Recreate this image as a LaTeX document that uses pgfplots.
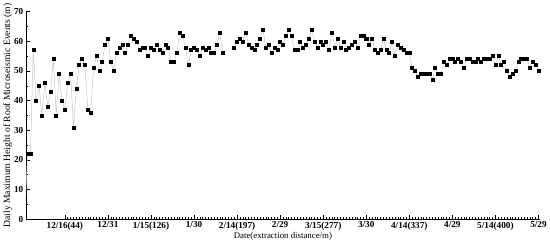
\documentclass[border=0pt]{standalone}
\usepackage{fontspec}
\setmainfont{Liberation Serif}
\usepackage{pgfplots}
\pgfplotsset{compat=1.18}
\usepackage{pgfplotstable}

% day 0 = 12/16, one row per day; nan marks the missing days
\pgfplotstableread{
day h
-13 22
-12 22
-11 57
-10 40
-9 45
-8 35
-7 46
-6 38
-5 43
-4 54
-3 35
-2 49
-1 40
0 37
1 46
2 49
3 31
4 44
5 52
6 54
7 52
8 37
9 36
10 51
11 55
12 50
13 53
14 59
15 61
16 53
17 50
18 56
19 58
20 59
21 56
22 59
23 62
24 61
25 60
26 57
27 58
28 58
29 55
30 58
31 57
32 59
33 57
34 56
35 59
36 58
37 53
38 53
39 56
40 63
41 62
42 58
43 52
44 57
45 58
46 57
47 55
48 58
49 57
50 58
51 56
52 56
53 59
54 63
55 56
57 nan
59 58
60 60
61 61
62 60
63 63
64 59
65 58
66 57
67 59
68 61
69 64
70 58
71 59
72 56
73 58
74 57
75 60
76 59
77 62
78 64
79 62
80 57
81 57
82 60
83 58
84 59
85 61
86 64
87 60
88 58
89 60
90 59
91 60
92 57
93 63
94 58
95 61
96 58
97 60
98 57
99 58
100 59
101 60
102 58
103 62
104 62
105 61
106 59
107 61
108 57
109 56
110 57
111 61
112 57
113 56
114 60
115 55
116 59
117 58
118 57
119 56
120 56
121 51
122 50
123 48
124 49
125 49
126 49
127 49
128 47
129 51
130 49
131 49
132 53
133 52
134 54
135 54
136 53
137 54
138 53
139 51
140 54
141 54
142 53
143 53
144 54
145 53
146 54
147 54
148 54
149 55
150 52
151 55
152 52
153 53
154 50
155 48
156 49
157 50
158 53
159 54
160 54
161 54
162 51
163 53
164 52
165 50
}\heights

\begin{document}
\begin{tikzpicture}
\begin{axis}[
    scale only axis,
    width=513pt, height=207pt,
    xmin=-13.6, xmax=165.5, ymin=0, ymax=70,
    axis lines*=left,
    axis line style={line width=0.6pt},
    tick align=inside,
    xtick={0,15,...,165},
    xticklabels={12/16(44),12/31,1/15(126),1/30,2/14(197),2/29,3/15(277),3/30,4/14(337),4/29,5/14(400),5/29},
    minor x tick num=14,
    ytick={0,10,...,70},
    minor y tick num=1,
    major tick length=4pt, minor tick length=2pt,
    tick style={black, line width=0.5pt},
    /pgf/number format/assume math mode=true,
    ticklabel style={font=\fontsize{9.2}{10}\selectfont\bfseries},
    xticklabel style={yshift=1pt},
    yticklabel style={xshift=1pt},
    xlabel={Date(extraction distance/m)},
    ylabel={Daily Maximum Height of Roof Microseismic Events (m)},
    xlabel style={font=\fontsize{8.8}{10}\selectfont, yshift=5pt},
    ylabel style={font=\fontsize{9.6}{10}\selectfont, yshift=-5pt},
    unbounded coords=jump,
]
\addplot[gray!45, line width=0.5pt] coordinates {(-14,0) (-13,22)};
\addplot[gray!45, line width=0.5pt, mark=square*,
    mark options={black, fill=black, mark size=1.5pt}] table[x=day, y=h] {\heights};
\end{axis}
\end{tikzpicture}
\end{document}
